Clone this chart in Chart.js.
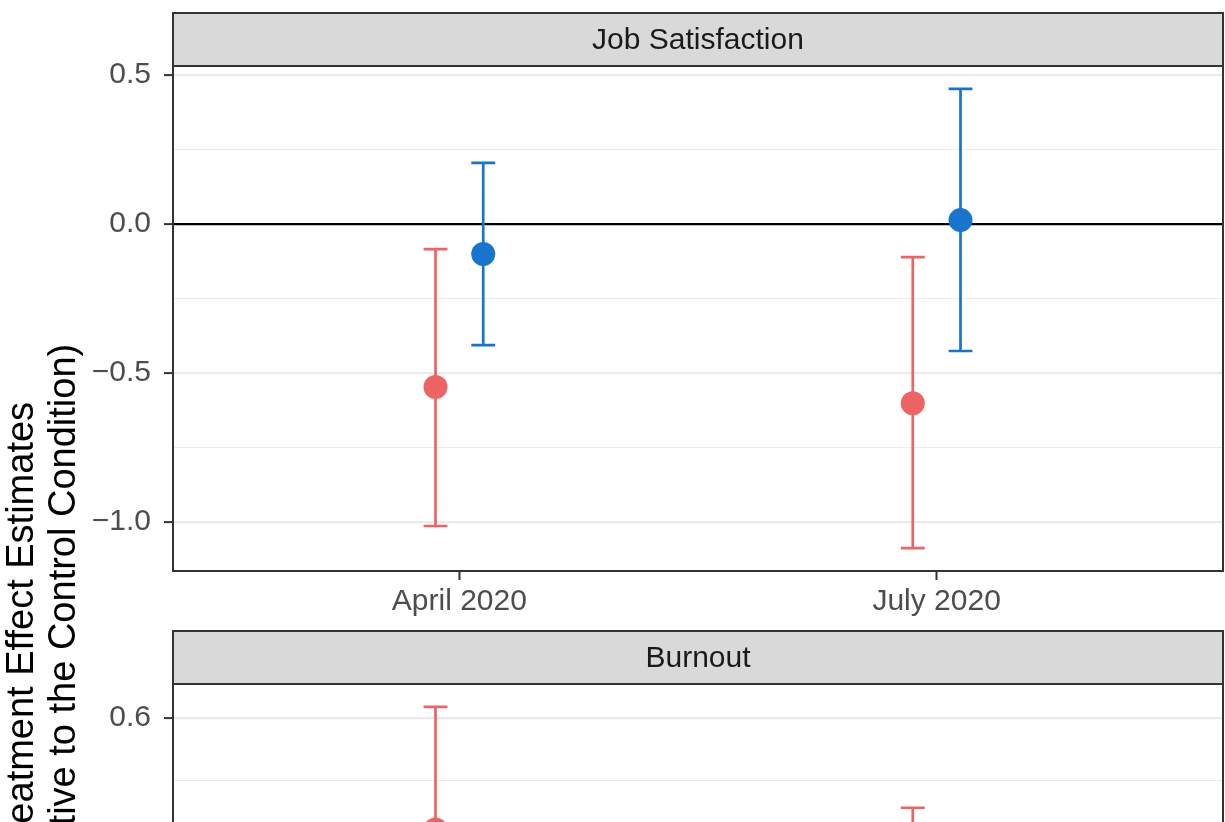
<!DOCTYPE html>
<html>
<head>
<meta charset="utf-8">
<script src="https://cdn.jsdelivr.net/npm/chart.js@4.4.0/dist/chart.umd.min.js"></script>
<style>
  html, body { margin: 0; padding: 0; background: #fff; overflow: hidden; width: 1225px; height: 822px; }
  .panel { position: absolute; left: 0; width: 1225px; height: 630px; }
  #ytitle {
    position: absolute; width: 700px; height: 84px; left: -309px; top: 588px;
    transform: rotate(-90deg);
    font-family: 'Liberation Sans', Arial, sans-serif; font-size: 38px; line-height: 42px;
    text-align: center; color: #000; white-space: nowrap;
  }
</style>
</head>
<body>
<div class="panel" style="top:0"><canvas id="jobSat"></canvas></div>
<div class="panel" style="top:618px"><canvas id="burnout"></canvas></div>
<div id="ytitle">Treatment Effect Estimates<br>(Relative to the Control Condition)</div>
<script>
// Survey waves (x categories)
const waves = ['April 2020', 'July 2020'];

// Job satisfaction: point estimates with lower / upper confidence limits
const jobA_est = [-0.547, -0.601];
const jobA_lo  = [-1.013, -1.087];
const jobA_hi  = [-0.084, -0.111];
const jobB_est = [-0.101, 0.013];
const jobB_lo  = [-0.406, -0.426];
const jobB_hi  = [0.205, 0.453];
const jobMajor  = [-1.0, -0.5, 0.0, 0.5];
const jobLabels = ['\u22121.0', '\u22120.5', '0.0', '0.5'];
const jobMinor  = [-0.75, -0.25, 0.25];

// Burnout: point estimates with lower / upper confidence limits
const burnA_est = [0.421, 0.262];
const burnA_lo  = [0.224, 0.068];
const burnA_hi  = [0.618, 0.456];
const burnB_est = [0.05, 0.10];
const burnB_lo  = [-0.12, -0.09];
const burnB_hi  = [0.22, 0.29];
const burnMajor  = [0.0, 0.2, 0.4, 0.6];
const burnLabels = ['0.0', '0.2', '0.4', '0.6'];
const burnMinor  = [-0.1, 0.1, 0.3, 0.5];

const RED = '#EE6363';
const BLUE = '#1874CD';
const FONT_FAMILY = "'Liberation Sans', Arial, sans-serif";
const DODGE = 0.05;     // horizontal offset of each group, in x units
const CAP = 0.025;      // half width of error-bar caps, in x units

// Error bars drawn under the points, positioned through the chart scales
const errorBars = {
  id: 'errorBars',
  beforeDatasetsDraw(chart) {
    const { ctx, scales: { x, y } } = chart;
    chart.data.datasets.forEach((ds, i) => {
      const meta = chart.getDatasetMeta(i);
      ctx.save();
      ctx.strokeStyle = ds.backgroundColor;
      ctx.lineWidth = 2.7;
      ctx.lineCap = 'butt';
      ds.data.forEach((p, j) => {
        const px = meta.data[j].x;
        const yl = y.getPixelForValue(ds.lo[j]);
        const yh = y.getPixelForValue(ds.hi[j]);
        const x0 = x.getPixelForValue(p.x - CAP);
        const x1 = x.getPixelForValue(p.x + CAP);
        ctx.beginPath();
        ctx.moveTo(px, yl); ctx.lineTo(px, yh);
        ctx.moveTo(x0, yl); ctx.lineTo(x1, yl);
        ctx.moveTo(x0, yh); ctx.lineTo(x1, yh);
        ctx.stroke();
      });
      ctx.restore();
    });
  }
};

// Facet strip above the panel and the panel border
const facetFrame = {
  id: 'facetFrame',
  afterDraw(chart, args, opts) {
    const { ctx, chartArea: a } = chart;
    ctx.save();
    const top = 13;
    ctx.fillStyle = '#d9d9d9';
    ctx.fillRect(a.left, top, a.right - a.left, a.top - top);
    ctx.strokeStyle = '#333333';
    ctx.lineWidth = 2;
    ctx.strokeRect(a.left, top, a.right - a.left, a.top - top);
    ctx.strokeRect(a.left, a.top, a.right - a.left, a.bottom - a.top);
    ctx.fillStyle = '#1a1a1a';
    ctx.font = '30px ' + FONT_FAMILY;
    ctx.textAlign = 'center';
    ctx.textBaseline = 'middle';
    ctx.fillText(opts.text, (a.left + a.right) / 2, (top + a.top) / 2 + 1);
    ctx.restore();
  }
};

function pointsOf(est, offset) {
  return waves.map((w, i) => ({ x: i + 1 + offset, y: est[i] }));
}

function makePanel(canvasId, title, groups, major, labels, minor) {
  const all = groups.flatMap(g => g.lo.concat(g.hi));
  const lo = Math.min(...all), hi = Math.max(...all);
  const pad = (hi - lo) * 0.05;
  const isMajor = v => major.some(m => Math.abs(m - v) < 1e-9);
  const labelOf = v => {
    const k = major.findIndex(m => Math.abs(m - v) < 1e-9);
    return k >= 0 ? labels[k] : '';
  };
  const tickFont = { family: FONT_FAMILY, size: 30 };

  return new Chart(document.getElementById(canvasId), {
    type: 'scatter',
    data: {
      datasets: groups.map(g => ({
        label: g.name,
        data: pointsOf(g.est, g.offset),
        lo: g.lo,
        hi: g.hi,
        backgroundColor: g.color,
        borderWidth: 0,
        pointRadius: 12,
        pointHoverRadius: 12
      }))
    },
    options: {
      responsive: true,
      maintainAspectRatio: false,
      animation: false,
      events: [],
      layout: { autoPadding: false, padding: { top: 66, right: 2, left: 0, bottom: 0 } },
      plugins: {
        legend: { display: false },
        tooltip: { enabled: false },
        facetFrame: { text: title }
      },
      scales: {
        x: {
          type: 'linear',
          min: 0.4,
          max: 2.6,
          afterBuildTicks: ax => { ax.ticks = waves.map((w, i) => ({ value: i + 1 })); },
          afterFit: ax => { ax.height = 59; ax.paddingLeft = 0; ax.paddingRight = 0; },
          border: { display: false },
          grid: { drawOnChartArea: false, drawTicks: true, tickLength: 9, tickWidth: 2, tickColor: '#333333' },
          ticks: {
            callback: (v, i) => waves[i],
            font: tickFont, color: '#4d4d4d', padding: 4, maxRotation: 0, autoSkip: false
          }
        },
        y: {
          type: 'linear',
          min: lo - pad,
          max: hi + pad,
          afterBuildTicks: ax => {
            ax.ticks = major.concat(minor).sort((a, b) => a - b).map(v => ({ value: v }));
          },
          afterFit: ax => { ax.width = 173; },
          border: { display: false },
          grid: {
            color: c => (c.tick && Math.abs(c.tick.value) < 1e-9) ? '#000000' : '#ebebeb',
            lineWidth: c => (c.tick && isMajor(c.tick.value)) ? 2.2 : 1.1,
            tickColor: c => (c.tick && isMajor(c.tick.value)) ? '#333333' : 'rgba(0,0,0,0)',
            tickLength: 9,
            tickWidth: 2
          },
          ticks: {
            callback: v => labelOf(v),
            font: tickFont, color: '#4d4d4d', padding: 13, autoSkip: false
          }
        }
      }
    },
    plugins: [errorBars, facetFrame]
  });
}

makePanel('jobSat', 'Job Satisfaction', [
  { name: 'Treatment A', est: jobA_est, lo: jobA_lo, hi: jobA_hi, color: RED, offset: -DODGE },
  { name: 'Treatment B', est: jobB_est, lo: jobB_lo, hi: jobB_hi, color: BLUE, offset: DODGE }
], jobMajor, jobLabels, jobMinor);

makePanel('burnout', 'Burnout', [
  { name: 'Treatment A', est: burnA_est, lo: burnA_lo, hi: burnA_hi, color: RED, offset: -DODGE },
  { name: 'Treatment B', est: burnB_est, lo: burnB_lo, hi: burnB_hi, color: BLUE, offset: DODGE }
], burnMajor, burnLabels, burnMinor);
</script>
</body>
</html>
